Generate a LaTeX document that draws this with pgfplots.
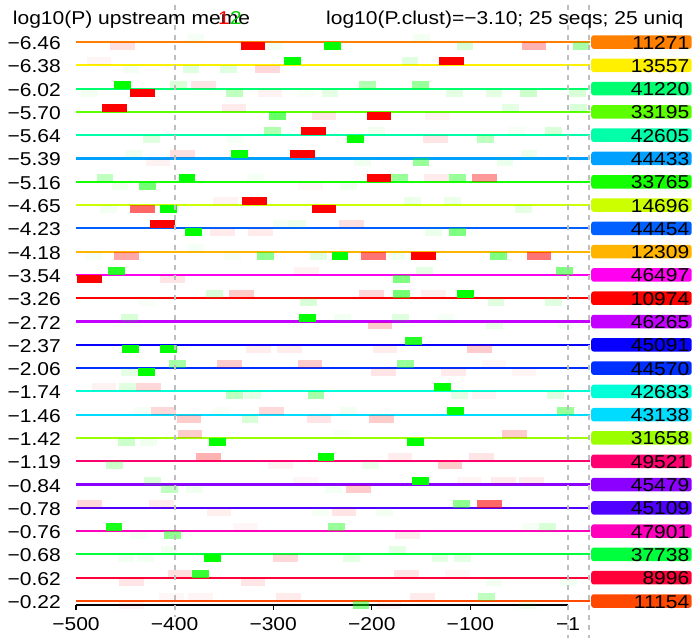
\documentclass[border=0pt]{standalone}
\usepackage{fontspec}
\setmainfont{Liberation Sans}[FakeStretch=1.13]
\usepackage{pgfplots}
\pgfplotsset{compat=1.18}
\definecolor{c1}{HTML}{FF7F00}
\definecolor{c2}{HTML}{FFF000}
\definecolor{c3}{HTML}{00FF70}
\definecolor{c4}{HTML}{5BFF00}
\definecolor{c5}{HTML}{00FFA8}
\definecolor{c6}{HTML}{00A0FF}
\definecolor{c7}{HTML}{14FF00}
\definecolor{c8}{HTML}{CCFF00}
\definecolor{c9}{HTML}{0060FF}
\definecolor{c10}{HTML}{FFB400}
\definecolor{c11}{HTML}{FF00F0}
\definecolor{c12}{HTML}{FF0000}
\definecolor{c13}{HTML}{C400FF}
\definecolor{c14}{HTML}{0800FF}
\definecolor{c15}{HTML}{0030FF}
\definecolor{c16}{HTML}{00FFD8}
\definecolor{c17}{HTML}{00DCFF}
\definecolor{c18}{HTML}{9CFF00}
\definecolor{c19}{HTML}{FF0070}
\definecolor{c20}{HTML}{8C00FF}
\definecolor{c21}{HTML}{5000FF}
\definecolor{c22}{HTML}{FF00BC}
\definecolor{c23}{HTML}{00FF3C}
\definecolor{c24}{HTML}{FF0038}
\definecolor{c25}{HTML}{FF4800}
\definecolor{mred}{HTML}{FF0000}
\definecolor{mgreen}{HTML}{00FF00}
\definecolor{dashgray}{HTML}{BEBEBE}
\newcommand\fs{\fontsize{18.6pt}{22pt}\selectfont}
% motif bar: start x, row (1 = top), side (+1 above / -1 below), opacity
\newcommand\bR[4]{\pgfmathsetmacro\xa{#1}\pgfmathsetmacro\xb{#1+25}\pgfmathsetmacro\ya{26-#2}\pgfmathsetmacro\yb{26-#2+#3*0.343}%
\addplot[draw=none,fill=mred,fill opacity=#4,forget plot] coordinates {(\xa,\ya) (\xb,\ya) (\xb,\yb) (\xa,\yb)} -- cycle;}
\newcommand\bG[4]{\pgfmathsetmacro\xa{#1}\pgfmathsetmacro\xb{#1+17}\pgfmathsetmacro\ya{26-#2}\pgfmathsetmacro\yb{26-#2+#3*0.343}%
\addplot[draw=none,fill=mgreen,fill opacity=#4,forget plot] coordinates {(\xa,\ya) (\xb,\ya) (\xb,\yb) (\xa,\yb)} -- cycle;}
\newcommand\rowline[2]{\addplot[color=#2,line width=2.1pt,forget plot] coordinates {(-500,#1) (21,#1)};}
\newcommand\rowbox[3]{\node[fill=#2,rounded corners=2.5pt,minimum width=100.5pt,minimum height=13.5pt,inner sep=0pt,anchor=west] at (axis cs:22.3,#1) {};
\node[anchor=base east,inner sep=0pt,yshift=-7pt] at (axis cs:122.2,#1) {#3};}
\begin{document}
\begin{tikzpicture}[font=\fs]
\useasboundingbox (0,0) rectangle (692pt,638pt);
\begin{axis}[at={(76pt,33pt)}, anchor=south west, scale only axis,
  width=513.7pt, height=600pt,
  xmin=-500, xmax=21, ymin=0.828, ymax=26.589, clip=false,
  axis line style={draw=none},
  xtick={-500,-400,-300,-200,-100,-1},
  xticklabels={−500,−400,−300,−200,−100,−1},
  ytick={1,...,25},
  yticklabels={−0.22,−0.62,−0.68,−0.76,−0.78,−0.84,−1.19,−1.42,−1.46,−1.74,−2.06,−2.37,−2.72,−3.26,−3.54,−4.18,−4.23,−4.65,−5.16,−5.39,−5.64,−5.70,−6.02,−6.38,−6.46},
  tick align=outside, xtick pos=bottom, ytick pos=left,
  major tick length=5pt,
  xtick style={black, line width=1.2pt},
  ytick style={draw=none},
  tick label style={font=\fs},
  xticklabel style={anchor=north, inner sep=0pt, yshift=-7pt},
  yticklabel style={anchor=base east, inner sep=0pt, xshift=-10pt, yshift=-7.5pt},
]
% x axis line
\addplot[black, line width=1.2pt, forget plot] coordinates {(-500,0.828) (-1,0.828)};
% row lines
\rowline{25}{c1}\rowline{24}{c2}\rowline{23}{c3}\rowline{22}{c4}\rowline{21}{c5}
\rowline{20}{c6}\rowline{19}{c7}\rowline{18}{c8}\rowline{17}{c9}\rowline{16}{c10}
\rowline{15}{c11}\rowline{14}{c12}\rowline{13}{c13}\rowline{12}{c14}\rowline{11}{c15}
\rowline{10}{c16}\rowline{9}{c17}\rowline{8}{c18}\rowline{7}{c19}\rowline{6}{c20}
\rowline{5}{c21}\rowline{4}{c22}\rowline{3}{c23}\rowline{2}{c24}\rowline{1}{c25}
% row 1
\bR{-465.5}{1}{-1}{0.12}\bG{-387}{1}{1}{0.04}\bR{-333}{1}{-1}{1}\bG{-306.6}{1}{-1}{0.05}
\bG{-248.2}{1}{-1}{1}\bG{-157.9}{1}{1}{0.05}\bG{-113.9}{1}{-1}{0.15}\bR{-48}{1}{-1}{0.3}\bG{3.7}{1}{-1}{0.35}
% row 2
\bR{-489}{2}{1}{0.04}\bG{-452.7}{2}{-1}{0.05}\bG{-391.8}{2}{-1}{0.12}\bG{-354}{2}{-1}{0.12}
\bR{-318}{2}{-1}{0.15}\bG{-289}{2}{1}{1}\bG{-169.7}{2}{1}{0.12}\bR{-131.8}{2}{1}{1}
% row 3
\bG{-495}{3}{-1}{0.05}\bG{-461}{3}{1}{1}\bR{-445.2}{3}{-1}{1}\bG{-404.7}{3}{1}{0.15}
\bR{-383.4}{3}{1}{0.1}\bG{-347.9}{3}{-1}{0.25}\bR{-315.7}{3}{-1}{0.05}\bG{-274.5}{3}{-1}{0.03}
\bG{-250.8}{3}{-1}{0.1}\bG{-213}{3}{1}{0.3}\bG{-158.9}{3}{1}{0.4}\bG{-124.7}{3}{-1}{0.1}
\bG{-84.5}{3}{-1}{0.1}\bG{-49.7}{3}{-1}{0.2}\bG{0.3}{3}{-1}{0.15}
% row 4
\bR{-473.3}{4}{1}{1}\bR{-352.2}{4}{1}{0.08}\bG{-304}{4}{-1}{0.6}\bR{-261}{4}{-1}{0.1}
\bR{-205.2}{4}{-1}{1}\bR{-146}{4}{-1}{0.05}\bG{-67.6}{4}{1}{0.1}\bG{1}{4}{1}{0.15}
% row 5
\bG{-431.7}{5}{-1}{0.12}\bG{-347.2}{5}{-1}{0.04}\bG{-309}{5}{1}{0.3}\bR{-271.8}{5}{1}{1}
\bG{-224.9}{5}{-1}{1}\bG{-203.5}{5}{1}{0.06}\bR{-147.7}{5}{-1}{0.1}\bG{-93}{5}{-1}{0.25}
\bG{-61.6}{5}{1}{0.04}\bG{-24.3}{5}{1}{0.15}
% row 6
\bG{-450.3}{6}{1}{0.06}\bR{-404.7}{6}{1}{0.12}\bR{-429.3}{6}{-1}{0.05}\bG{-342.8}{6}{1}{1}
\bR{-283}{6}{1}{1}\bG{-218}{6}{-1}{0.06}\bG{-158.5}{6}{-1}{0.4}\bG{-73.3}{6}{-1}{0.07}\bG{-49}{6}{1}{0.07}
% row 7
\bG{-479}{7}{1}{0.25}\bG{-395.9}{7}{1}{1}\bG{-326.2}{7}{1}{0.04}\bG{-463.8}{7}{-1}{0.06}
\bG{-436.1}{7}{-1}{0.55}\bR{-274.8}{7}{-1}{0.03}\bG{-232}{7}{-1}{0.06}\bR{-205.2}{7}{1}{1}
\bG{-180.5}{7}{1}{0.4}\bR{-147}{7}{1}{0.08}\bG{-121.4}{7}{1}{0.4}\bR{-98.1}{7}{1}{0.4}
% row 8
\bR{-360.7}{8}{1}{0.05}\bR{-331.3}{8}{1}{1}\bG{-475.7}{8}{-1}{0.05}\bR{-445.2}{8}{-1}{0.6}
\bG{-414.8}{8}{-1}{1}\bR{-261}{8}{-1}{1}\bG{-167}{8}{1}{0.08}\bG{-126.5}{8}{1}{0.08}\bG{-54.8}{8}{-1}{0.1}
% row 9
\bR{-425}{9}{1}{1}\bG{-300}{9}{1}{0.05}\bG{-283.7}{9}{1}{0.08}\bR{-233}{9}{1}{0.12}
\bG{-389.1}{9}{-1}{1}\bR{-364}{9}{-1}{0.08}\bR{-325.2}{9}{-1}{0.08}\bG{-146}{9}{-1}{0.08}\bG{-121.7}{9}{-1}{0.5}
% row 10
\bG{-386.8}{10}{1}{0.04}\bG{-490.9}{10}{-1}{0.04}\bR{-461.2}{10}{-1}{0.35}\bG{-349.6}{10}{-1}{0.03}
\bG{-316}{10}{-1}{0.45}\bG{-262.7}{10}{-1}{0.12}\bG{-240.7}{10}{-1}{1}\bR{-211}{10}{-1}{0.55}
\bG{-182.2}{10}{-1}{0.06}\bR{-160.2}{10}{-1}{1}\bG{-80.1}{10}{-1}{0.5}\bR{-42.9}{10}{-1}{0.55}
% row 11
\bG{-467.3}{11}{1}{0.85}\bR{-498.7}{11}{-1}{1}\bR{-414.8}{11}{-1}{0.1}\bR{-278.9}{11}{1}{0.05}
\bG{-155.2}{11}{1}{0.1}\bG{-13.2}{11}{1}{0.5}\bG{-178.2}{11}{-1}{0.5}
% row 12
\bG{-368.2}{12}{1}{0.15}\bR{-344.8}{12}{1}{0.2}\bG{-272.8}{12}{-1}{0.15}\bG{-436.8}{12}{-1}{0.03}
\bR{-213}{12}{1}{0.15}\bG{-178.2}{12}{1}{0.55}\bR{-150.1}{12}{1}{0.06}\bG{-113.3}{12}{1}{1}
\bG{-82.5}{12}{-1}{0.12}\bG{-24.3}{12}{-1}{0.12}
% row 13
\bG{-454.4}{13}{1}{0.15}\bG{-273.8}{13}{1}{1}\bG{-238}{13}{1}{0.05}\bG{-179.2}{13}{1}{0.12}
\bG{-133.2}{13}{1}{0.04}\bR{-204.2}{13}{-1}{0.2}\bG{-84.2}{13}{-1}{0.08}\bG{-12.5}{13}{-1}{0.04}
% row 14
\bG{-453}{14}{-1}{1}\bG{-414.8}{14}{-1}{1}\bR{-327.6}{14}{-1}{0.07}\bR{-295.8}{14}{-1}{0.07}
\bG{-166.3}{14}{1}{0.85}\bR{-199.1}{14}{-1}{0.07}\bR{-103.1}{14}{-1}{0.2}
% row 15
\bG{-405.7}{15}{1}{0.35}\bR{-356.7}{15}{1}{0.2}\bR{-275.1}{15}{1}{0.2}\bG{-454.7}{15}{-1}{0.1}
\bG{-436.8}{15}{-1}{1}\bG{-174.1}{15}{1}{0.4}\bR{-88.5}{15}{1}{0.03}\bR{-200.8}{15}{-1}{0.1}
\bR{-129.8}{15}{-1}{0.08}\bR{-58.1}{15}{-1}{0.04}
% row 16
\bR{-484.1}{16}{1}{0.05}\bG{-456.1}{16}{1}{0.12}\bR{-439.1}{16}{1}{0.15}\bG{-347.9}{16}{-1}{0.25}
\bG{-329.3}{16}{-1}{0.1}\bG{-265}{16}{-1}{0.35}\bG{-136.9}{16}{1}{1}\bG{-119.7}{16}{-1}{0.1}
\bR{-98.7}{16}{-1}{0.04}\bG{-22}{16}{-1}{0.12}
% row 17
\bG{-440.8}{17}{1}{0.04}\bR{-423.9}{17}{1}{0.15}\bG{-361.8}{17}{1}{0.03}\bR{-314}{17}{1}{0.15}
\bR{-397.9}{17}{-1}{0.2}\bG{-332}{17}{-1}{0.15}\bR{-266}{17}{-1}{0.1}\bG{-232.2}{17}{1}{0.05}
\bG{-124}{17}{1}{1}\bG{-11.9}{17}{1}{0.4}\bR{-202.8}{17}{-1}{0.2}
% row 18
\bR{-396.9}{18}{1}{0.2}\bG{-457.1}{18}{-1}{0.2}\bG{-435.1}{18}{-1}{0.06}\bG{-365.1}{18}{-1}{1}
\bG{-239}{18}{1}{0.03}\bR{-67.6}{18}{1}{0.2}\bG{-164}{18}{-1}{1}
% row 19
\bR{-378.3}{19}{1}{0.3}\bG{-254.9}{19}{1}{1}\bG{-469.6}{19}{-1}{0.2}\bR{-305}{19}{-1}{0.05}
\bR{-183.9}{19}{1}{0.07}\bR{-101.1}{19}{1}{0.1}\bG{-210.2}{19}{-1}{0.08}\bR{-133.2}{19}{-1}{0.2}
% row 20
\bG{-431}{20}{1}{0.15}\bG{-413.8}{20}{-1}{0.25}\bG{-388.4}{20}{-1}{0.06}\bR{-280}{20}{1}{0.03}
\bG{-247}{20}{-1}{0.05}\bR{-226.2}{20}{-1}{0.2}\bG{-158.9}{20}{1}{1}\bR{-113.9}{20}{1}{0.04}
\bR{-79.1}{20}{1}{0.08}\bR{-50.7}{20}{1}{0.08}
% row 21
\bR{-498.7}{21}{1}{0.15}\bR{-426}{21}{1}{0.08}\bR{-367.5}{21}{-1}{0.06}\bG{-260.3}{21}{-1}{0.04}
\bR{-240.7}{21}{-1}{0.1}\bG{-117.4}{21}{1}{0.45}\bR{-93}{21}{1}{0.6}\bG{-195.7}{21}{-1}{0.05}
% row 22
\bG{-469.9}{22}{1}{0.9}\bR{-340.5}{22}{1}{0.03}\bG{-244.1}{22}{1}{0.4}\bG{-444.2}{22}{-1}{0.04}
\bG{-410.7}{22}{-1}{0.45}\bG{-48}{22}{1}{0.04}\bG{-30.1}{22}{1}{0.15}\bR{-176.5}{22}{-1}{0.08}
% row 23
\bG{-414.1}{23}{1}{0.06}\bG{-457.8}{23}{-1}{0.05}\bG{-438.4}{23}{-1}{0.05}\bG{-370.2}{23}{-1}{1}
\bR{-300}{23}{-1}{0.15}\bG{-182.2}{23}{1}{0.1}\bG{-228.9}{23}{-1}{0.1}\bG{-139.3}{23}{-1}{0.1}\bG{-116.3}{23}{-1}{0.1}
% row 24
\bR{-407}{24}{1}{0.12}\bG{-382}{24}{1}{0.8}\bR{-456.1}{24}{-1}{0.1}\bR{-333}{24}{-1}{0.1}
\bR{-177.2}{24}{1}{0.1}\bR{-125.8}{24}{1}{0.03}\bG{-84.5}{24}{-1}{0.05}\bG{-9.1}{24}{-1}{0.05}
% row 25
\bR{-415.5}{25}{1}{0.03}\bR{-386.1}{25}{1}{0.04}\bR{-297.2}{25}{1}{0.08}\bR{-456.1}{25}{-1}{0.05}
\bR{-161.3}{25}{1}{0.08}\bG{-92}{25}{1}{0.25}\bG{-219.4}{25}{-1}{0.45}\bR{-195}{25}{-1}{0.05}\bG{-50.7}{25}{-1}{0.06}
% dashed guide lines
\addplot[dashgray, line width=2pt, dash pattern=on 5pt off 5pt, forget plot] coordinates {(-400,26.589) (-400,0.33)};
\addplot[dashgray, line width=2pt, dash pattern=on 5pt off 5pt, forget plot] coordinates {(-1,26.589) (-1,-0.6)};
\addplot[dashgray, line width=2pt, dash pattern=on 5pt off 5pt, forget plot] coordinates {(20,26.589) (20,-0.6)};
% id boxes
\rowbox{25}{c1}{11271}\rowbox{24}{c2}{13557}\rowbox{23}{c3}{41220}\rowbox{22}{c4}{33195}
\rowbox{21}{c5}{42605}\rowbox{20}{c6}{44433}\rowbox{19}{c7}{33765}\rowbox{18}{c8}{14696}
\rowbox{17}{c9}{44454}\rowbox{16}{c10}{12309}\rowbox{15}{c11}{46497}\rowbox{14}{c12}{10974}
\rowbox{13}{c13}{46265}\rowbox{12}{c14}{45091}\rowbox{11}{c15}{44570}\rowbox{10}{c16}{42683}
\rowbox{9}{c17}{43138}\rowbox{8}{c18}{31658}\rowbox{7}{c19}{49521}\rowbox{6}{c20}{45479}
\rowbox{5}{c21}{45109}\rowbox{4}{c22}{47901}\rowbox{3}{c23}{37738}\rowbox{2}{c24}{8996}
\rowbox{1}{c25}{11154}
\end{axis}
\node[anchor=base west, inner sep=0pt] at (12.7pt,613pt) {log10(P) upstream meme};
\node[anchor=base west, inner sep=0pt, text=red] at (218pt,613pt) {1};
\node[anchor=base west, inner sep=0pt, text=mgreen!80!black] at (230pt,613pt) {2};
\node[anchor=base west, inner sep=0pt] at (326pt,613pt) {log10(P.clust)=−3.10; 25 seqs; 25 uniq};
\end{tikzpicture}
\end{document}
